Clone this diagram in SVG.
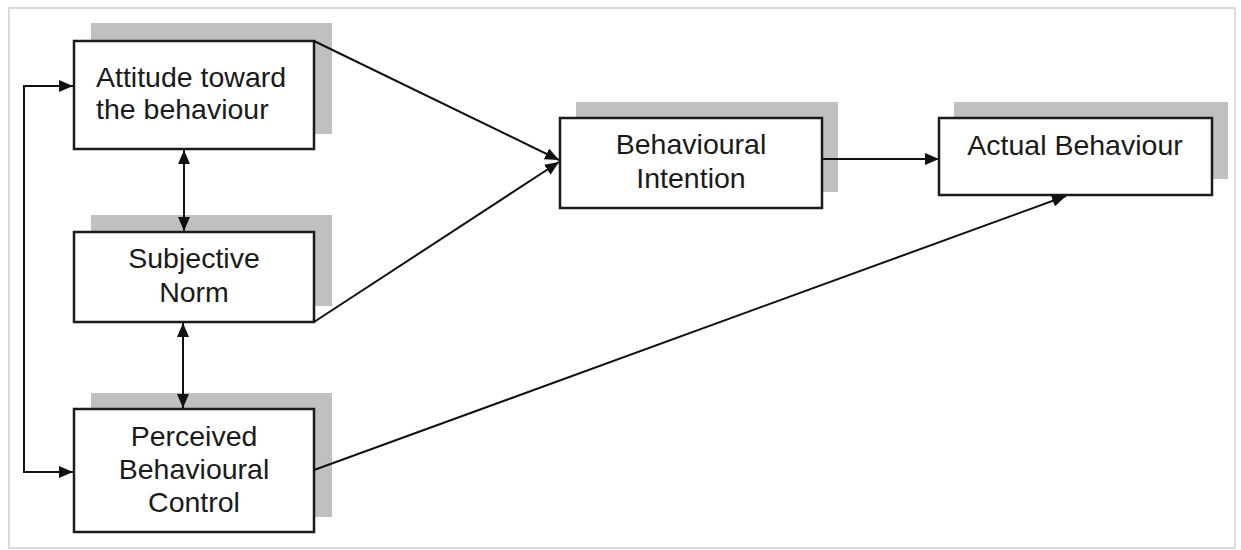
<svg xmlns="http://www.w3.org/2000/svg" width="1241" height="550" viewBox="0 0 1241 550">
<style>
.shadow{fill:#c0c0c0}
.box{fill:#fff;stroke:#1a1a1a;stroke-width:2.5}
.lbl{font-family:"Liberation Sans",Arial,sans-serif;font-size:28.5px;fill:#1a1a1a}
.c{text-anchor:middle}
.conn{fill:none;stroke:#111;stroke-width:2}
</style>
<defs>
<marker id="ah" viewBox="0 0 14 12" refX="14" refY="6" markerWidth="14" markerHeight="12" markerUnits="userSpaceOnUse" orient="auto-start-reverse">
<path d="M0,0 L14,6 L0,12 Z" fill="#111"/>
</marker>
</defs>
<rect width="1241" height="550" fill="#fff"/>
<rect x="9" y="8" width="1226" height="540" fill="none" stroke="#d0d0d0" stroke-width="1.5"/>

<g id="attitude">
<rect class="shadow" x="91" y="23" width="241" height="111"/>
<rect class="box" x="74" y="41" width="240" height="108"/>
<text class="lbl" x="96" y="87">Attitude toward</text>
<text class="lbl" x="96" y="119">the behaviour</text>
</g>

<g id="subjective">
<rect class="shadow" x="91" y="215" width="241" height="91"/>
<rect class="box" x="74" y="232" width="240" height="90"/>
<text class="lbl c" x="194" y="268">Subjective</text>
<text class="lbl c" x="194" y="302">Norm</text>
</g>

<g id="perceived">
<rect class="shadow" x="91" y="393" width="241" height="124"/>
<rect class="box" x="74" y="409" width="240" height="123"/>
<text class="lbl c" x="194" y="446">Perceived</text>
<text class="lbl c" x="194" y="479">Behavioural</text>
<text class="lbl c" x="194" y="512">Control</text>
</g>

<g id="intention">
<rect class="shadow" x="576" y="102" width="262" height="90"/>
<rect class="box" x="560" y="118" width="262" height="90"/>
<text class="lbl c" x="691" y="154">Behavioural</text>
<text class="lbl c" x="691" y="188">Intention</text>
</g>

<g id="actual">
<rect class="shadow" x="954" y="102" width="274" height="77"/>
<rect class="box" x="939" y="118" width="273" height="77"/>
<text class="lbl c" x="1075" y="155">Actual Behaviour</text>
</g>

<g id="connectors">
<line class="conn" x1="314" y1="41" x2="559" y2="160" marker-end="url(#ah)"/>
<line class="conn" x1="314" y1="322" x2="559" y2="162" marker-end="url(#ah)"/>
<line class="conn" x1="822" y1="159" x2="939" y2="159" marker-end="url(#ah)"/>
<line class="conn" x1="314" y1="470" x2="1066" y2="196" marker-end="url(#ah)"/>
<line class="conn" x1="184" y1="150" x2="184" y2="231" marker-start="url(#ah)" marker-end="url(#ah)"/>
<line class="conn" x1="183" y1="323" x2="183" y2="408" marker-start="url(#ah)" marker-end="url(#ah)"/>
<polyline class="conn" points="73,86 24,86 24,472 73,472" marker-start="url(#ah)" marker-end="url(#ah)"/>
</g>
</svg>
